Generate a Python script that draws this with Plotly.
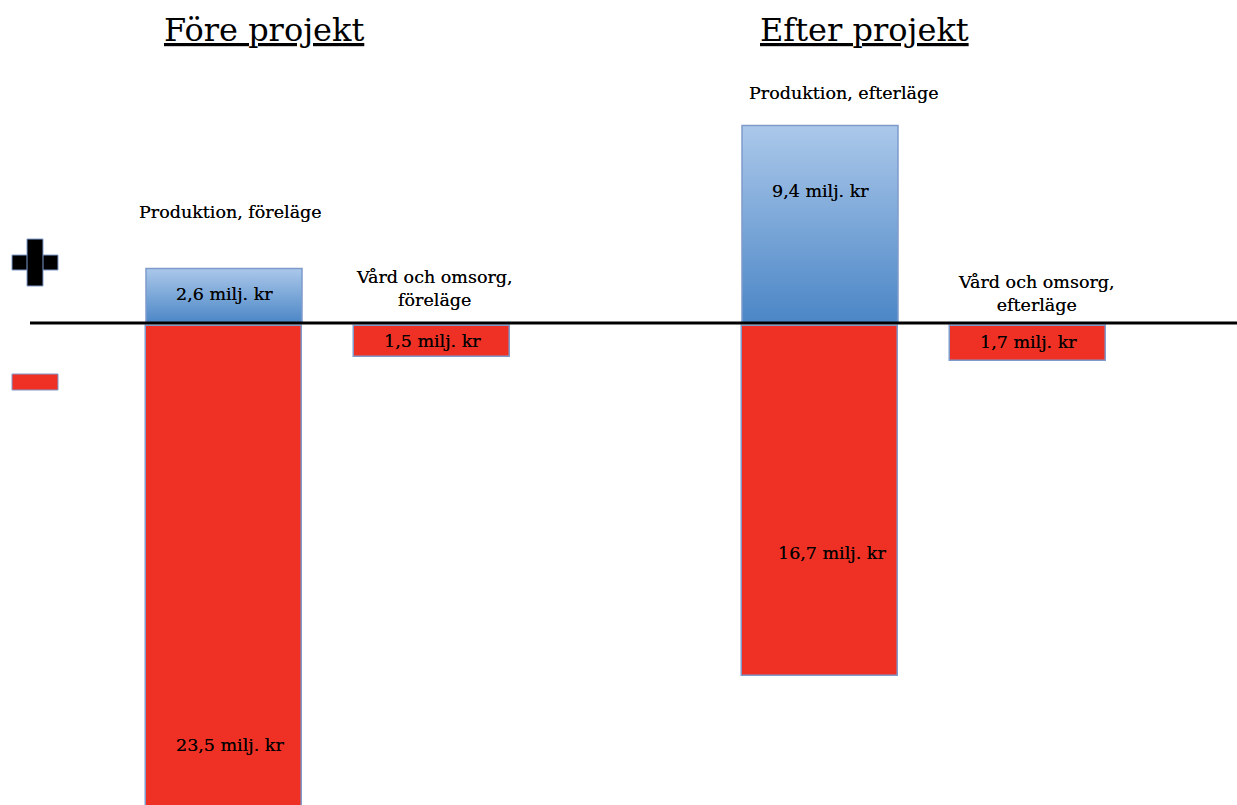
import plotly.graph_objects as go

# ---- data ----
scenarios = ["Före projekt", "Efter projekt"]
prod_labels = ["Produktion, föreläge", "Produktion, efterläge"]
vard_labels = ["Vård och omsorg,<br>föreläge", "Vård och omsorg,<br>efterläge"]
produktion_plus = [2.6, 9.4]      # positive, blue
produktion_minus = [23.5, 16.7]   # negative, red under production
vard_minus = [1.5, 1.7]           # negative, red

# ---- layout constants (pixel-like x units) ----
prod_x = [224, 820]
vard_x = [432, 1028]
bar_w = 156
title_x = [264, 864]

RED = "#ee3124"
EDGE = "#7f9bcc"
FONT = "DejaVu Serif"
TXT = "#000000"

def fmt(v):
    return f"{v:.1f}".replace(".", ",") + " milj. kr"

fig = go.Figure()

# red bars (negative)
fig.add_trace(go.Bar(
    x=prod_x + vard_x,
    y=[-v for v in produktion_minus + vard_minus],
    base=-0.12, width=bar_w,
    marker=dict(color=RED, line=dict(color=EDGE, width=1.5)),
    hoverinfo="skip", showlegend=False,
))

# blue bars with vertical gradient
for cx, v in zip(prod_x, produktion_plus):
    x0, x1 = cx - bar_w / 2, cx + bar_w / 2
    fig.add_trace(go.Scatter(
        x=[x0, x0, x1, x1, x0], y=[0, v, v, 0, 0],
        mode="lines", fill="toself",
        line=dict(color=EDGE, width=1.5),
        fillgradient=dict(type="vertical",
                          colorscale=[[0, "#4b86c6"], [1, "#abc8ea"]]),
        hoverinfo="skip", showlegend=False,
    ))

annotations = []
# titles
for tx, t in zip(title_x, scenarios):
    annotations.append(dict(x=tx, y=1.0, xref="x", yref="paper", yanchor="top",
                            yshift=-9, text=f"<u>{t}</u>", showarrow=False,
                            font=dict(family=FONT, size=32, color=TXT)))
lab_font = dict(family=FONT, size=17.5, color=TXT,
                shadow="0px 0px 0.6px rgba(0,0,0,0.7)")
# category labels
annotations.append(dict(x=230, y=5.3, xref="x", yref="y", text=prod_labels[0],
                        showarrow=False, font=lab_font))
annotations.append(dict(x=844, y=10.95, xref="x", yref="y", text=prod_labels[1],
                        showarrow=False, font=lab_font))
annotations.append(dict(x=434, y=1.65, xref="x", yref="y", text=vard_labels[0],
                        showarrow=False, font=lab_font))
annotations.append(dict(x=1036, y=1.4, xref="x", yref="y", text=vard_labels[1],
                        showarrow=False, font=lab_font))
# value labels
val_pos = [
    (prod_x[0], produktion_plus[0] / 2 + 0.1, produktion_plus[0]),
    (prod_x[1], produktion_plus[1] * 0.67, produktion_plus[1]),
    (prod_x[0] + 6, -produktion_minus[0] * 0.855, produktion_minus[0]),
    (prod_x[1] + 12, -produktion_minus[1] * 0.655, produktion_minus[1]),
    (vard_x[0], -vard_minus[0] / 2 - 0.1, vard_minus[0]),
    (vard_x[1], -vard_minus[1] / 2 - 0.05, vard_minus[1]),
]
for x, y, v in val_pos:
    annotations.append(dict(x=x, y=y, xref="x", yref="y", text=fmt(v),
                            showarrow=False, font=lab_font))

shapes = [
    # baseline
    dict(type="line", xref="x", yref="y", x0=30, x1=1237, y0=0, y1=0,
         line=dict(color="black", width=3)),
    # plus sign
    dict(type="rect", xref="x", yref="paper", x0=12, x1=58,
         y0=1 - 270 / 805, y1=1 - 255 / 805, fillcolor="black",
         line=dict(color=EDGE, width=1)),
    dict(type="rect", xref="x", yref="paper", x0=27, x1=43,
         y0=1 - 286 / 805, y1=1 - 239 / 805, fillcolor="black",
         line=dict(color=EDGE, width=1)),
    dict(type="rect", xref="x", yref="paper", x0=28, x1=42,
         y0=1 - 269 / 805, y1=1 - 256 / 805, fillcolor="black",
         line=dict(width=0)),
    # minus sign
    dict(type="rect", xref="x", yref="paper", x0=12, x1=58,
         y0=1 - 390 / 805, y1=1 - 374 / 805, fillcolor=RED,
         line=dict(color=EDGE, width=1)),
]

fig.update_layout(
    width=1237, height=805,
    margin=dict(l=0, r=0, t=0, b=0),
    paper_bgcolor="white", plot_bgcolor="white",
    xaxis=dict(range=[0, 1237], visible=False, fixedrange=True),
    yaxis=dict(range=[-22.95, 15.38], visible=False, fixedrange=True),
    annotations=annotations, shapes=shapes,
    bargap=0, showlegend=False,
)

fig.write_html("out.html", config={"displayModeBar": False},
               post_script="document.body.style.margin='0';document.body.style.overflow='hidden';")
